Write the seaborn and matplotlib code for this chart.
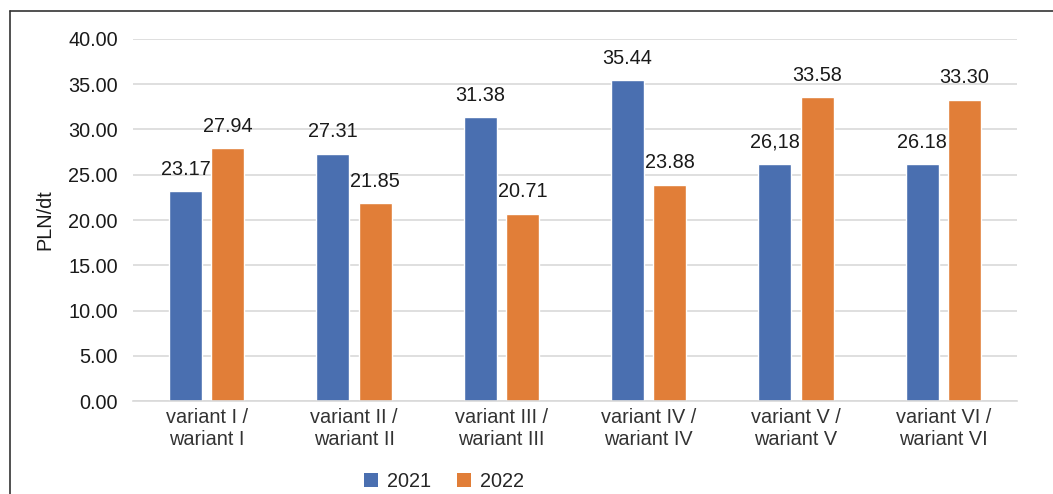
import matplotlib
matplotlib.use("Agg")
import matplotlib.pyplot as plt
import seaborn as sns
import pandas as pd
from matplotlib.patches import Patch
from matplotlib.lines import Line2D

categories = ["variant I /\nwariant I", "variant II /\nwariant II", "variant III /\nwariant III",
              "variant IV /\nwariant IV", "variant V /\nwariant V", "variant VI /\nwariant VI"]
series_names = ["2021", "2022"]
values_2021 = [23.17, 27.31, 31.38, 35.44, 26.18, 26.18]
values_2022 = [27.94, 21.85, 20.71, 23.88, 33.58, 33.30]
labels_2021 = ["23.17", "27.31", "31.38", "35.44", "26,18", "26.18"]
labels_2022 = ["27.94", "21.85", "20.71", "23.88", "33.58", "33.30"]
y_ticks = [0, 5, 10, 15, 20, 25, 30, 35, 40]

colors = ["#4A6FB0", "#E17E38"]
FS = 14.3

sns.set_theme(style="white")
plt.rcParams['font.family'] = ['Liberation Sans', 'DejaVu Sans']

df = pd.DataFrame({
    "category": categories * 2,
    "year": [series_names[0]] * 6 + [series_names[1]] * 6,
    "value": values_2021 + values_2022,
})

fig = plt.figure(figsize=(10.53, 4.94), dpi=100)
ax = fig.add_axes([133/1053, 1 - 401/494, (1017-133)/1053, (401-39)/494])

sns.barplot(data=df, x="category", y="value", hue="year", palette=colors,
            width=0.571, gap=0.216, ax=ax, legend=False, saturation=1)

ax.set_ylim(0, 40)
ax.set_xlim(-0.5, 5.5)
ax.set_yticks(y_ticks)
ax.set_yticklabels([f"{v:.2f}" for v in y_ticks], fontsize=FS, color="#1a1a1a")
ax.tick_params(axis="x", labelsize=FS, labelcolor="#333333", length=0, pad=5)
ax.tick_params(axis="y", length=0, pad=11)
ax.yaxis.grid(True, color="#D9D9D9", linewidth=1.2)
ax.set_axisbelow(True)
for s in ["top", "right", "left"]:
    ax.spines[s].set_visible(False)
ax.spines["bottom"].set_color("#D9D9D9")
ax.spines["bottom"].set_linewidth(1.2)
ax.set_xlabel("")
ax.set_ylabel("PLN/dt", fontsize=FS, color="#1a1a1a", labelpad=10)

for cont, labs in zip(ax.containers, [labels_2021, labels_2022]):
    ax.bar_label(cont, labels=labs, padding=9, fontsize=FS, color="#1a1a1a")

handles = [Patch(facecolor=c, edgecolor="none") for c in colors]
fig.legend(handles, series_names, loc="center", bbox_to_anchor=(444/1053, 1 - 481/494),
           ncol=2, frameon=False, fontsize=FS, handlelength=0.7, handleheight=0.7,
           columnspacing=1.3, handletextpad=0.45)

fig.add_artist(Line2D([9.5/1053, 9.5/1053], [0, 1 - 11/494], transform=fig.transFigure,
                      color="#333333", linewidth=1.2))
fig.add_artist(Line2D([9.5/1053, 1], [1 - 11/494, 1 - 11/494], transform=fig.transFigure,
                      color="#333333", linewidth=1.2))

fig.savefig("out.png", dpi=100)
